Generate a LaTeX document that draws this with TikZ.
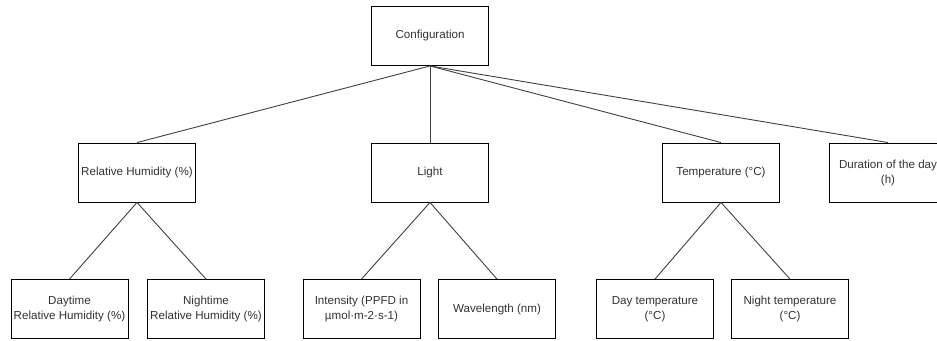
\documentclass[tikz,border=0pt]{standalone}
\usepackage{fontspec}
\setmainfont{Liberation Sans}
\begin{document}
\begin{tikzpicture}[x=1pt,y=-1pt,
  box/.style={draw=black,line width=0.9pt,fill=white,minimum width=117pt,minimum height=59pt,
    inner sep=1pt,align=center,text=black!80,font=\fontsize{11.6}{15}\selectfont},
  link/.style={draw=black!75,line width=0.9pt}]
\useasboundingbox (0,0) rectangle (937,340);
\clip (0,0) rectangle (937,340);

% top level
\node[box] (cfg) at (430,36) {Configuration};

% second level
\node[box] (rh)  at (137,172.5) {Relative Humidity (\%)};
\node[box] (lt)  at (430,172.5) {Light};
\node[box] (tmp) at (721,172.5) {Temperature (°C)};
\node[box] (dur) at (888,172.5) {Duration of the day\\(h)};

% third level
\node[box] (rhd) at (69.5,309) {Daytime\\Relative Humidity (\%)};
\node[box] (rhn) at (206,309) {Nightime\\Relative Humidity (\%)};
\node[box] (lti) at (361.5,309) {Intensity (PPFD in\\µmol·m-2·s-1)};
\node[box] (ltw) at (497,309) {Wavelength (nm)};
\node[box] (tpd) at (655,309) {Day temperature\\(°C)};
\node[box] (tpn) at (790,309) {Night temperature\\(°C)};

% connectors
\foreach \c in {rh,lt,tmp,dur}
  \draw[link] (cfg.south) -- (\c.north);
\foreach \c in {rhd,rhn}
  \draw[link] (rh.south) -- (\c.north);
\foreach \c in {lti,ltw}
  \draw[link] (lt.south) -- (\c.north);
\foreach \c in {tpd,tpn}
  \draw[link] (tmp.south) -- (\c.north);
\end{tikzpicture}
\end{document}
